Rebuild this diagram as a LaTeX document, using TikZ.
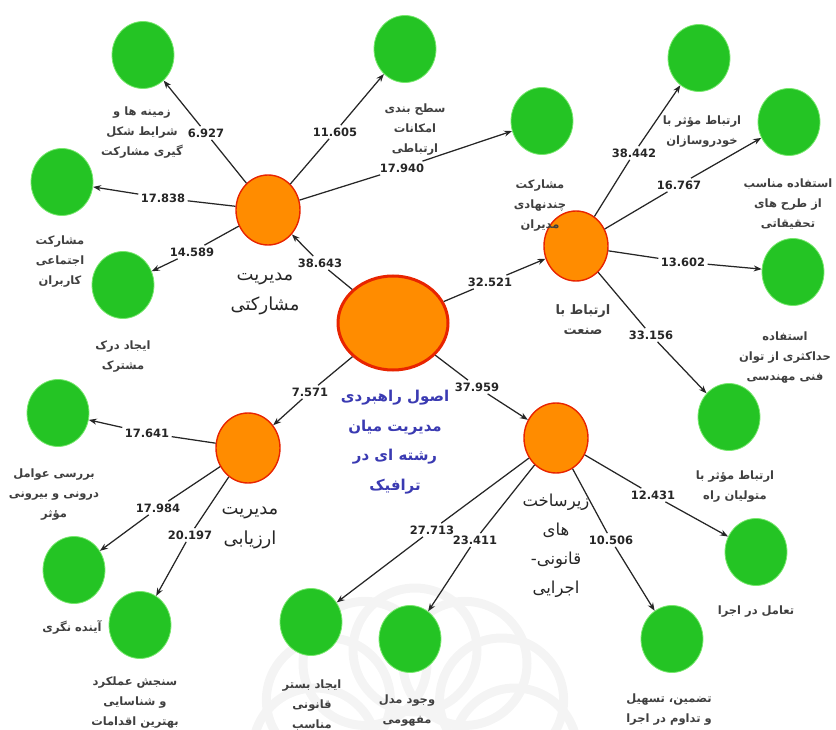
\documentclass[tikz,border=0pt]{standalone}
\usepackage{fontspec}
\setmainfont{DejaVu Sans}
\newfontfamily\fafont[Script=Arabic]{DejaVu Sans}
\TeXXeTstate=1
\usetikzlibrary{arrows.meta, shapes.geometric}
\def\fa#1{\beginR #1\endR}
\definecolor{leafgreen}{RGB}{36,196,36}
\definecolor{leafline}{RGB}{120,232,110}
\definecolor{hubfill}{RGB}{255,140,0}
\definecolor{hubline}{RGB}{232,36,0}
\definecolor{titleblue}{RGB}{58,58,178}

\begin{document}
\begin{tikzpicture}[x=1pt, y=-1pt,
  leaf/.style={ellipse, draw=leafline, line width=0.8pt, fill=leafgreen, minimum width=62pt, minimum height=67pt, inner sep=0pt},
  hub/.style={ellipse, draw=hubline, line width=1.4pt, fill=hubfill, minimum width=64pt, minimum height=70pt, inner sep=0pt},
  core/.style={ellipse, draw=hubline, line width=3pt, fill=hubfill, minimum width=110pt, minimum height=94pt},
  wt/.style={fill=white, inner sep=0.5pt, outer sep=2pt, text=black!85, font=\bfseries\fontsize{11.5}{12}\selectfont},
  tag/.style={align=center, text=black!75, font=\fafont\bfseries\fontsize{11.5}{20}\selectfont},
  bigtag/.style={align=center, text=black!85, font=\fafont\fontsize{18}{30}\selectfont},
  wire/.style={line width=1.25pt, black!85},
  link/.style={wire, -{Stealth[length=8pt, width=6pt]}},
  wmark/.style={gray!9, line width=9pt}]
\useasboundingbox (0,0) rectangle (836,730);

% faint watermark
\foreach \a in {0,30,...,330}
  \draw[wmark] (415,750) ++(\a:100) circle (62);

% main concept
\node[core] (root) at (393,323) {};
\node[tag, text=titleblue, font=\fafont\bfseries\fontsize{15}{29.6}\selectfont] (rootlbl) at (395,442)
  {\fa{اصول راهبردی}\\\fa{مدیریت میان}\\\fa{رشته ای در}\\\fa{ترافیک}};

% second level
\node[hub] (mgmt) at (268,210) {};
\node[hub] (ind) at (576,246) {};
\node[hub] (eval) at (248,448) {};
\node[hub] (infra) at (556,438) {};
\node[bigtag] (mgmtlbl) at (265,294) {\fa{مدیریت}\\\fa{مشارکتی}};
\node[tag, font=\fafont\bfseries\fontsize{13}{20}\selectfont] (indlbl) at (583,320) {\fa{ارتباط با}\\\fa{صنعت}};
\node[bigtag] (evallbl) at (250,528) {\fa{مدیریت}\\\fa{ارزیابی}};
\node[bigtag, font=\fafont\fontsize{16.5}{29}\selectfont] (infralbl) at (556,546)
  {\fa{زیرساخت}\\\fa{های}\\\fa{قانونی-}\\\fa{اجرایی}};

% indicators
\node[leaf] (g1) at (143,55) {};
\node[leaf] (g2) at (405,49) {};
\node[leaf] (g3) at (542,121) {};
\node[leaf] (g4) at (62,182) {};
\node[leaf] (g5) at (123,285) {};
\node[leaf] (g6) at (699,58) {};
\node[leaf] (g7) at (789,122) {};
\node[leaf] (g8) at (793,272) {};
\node[leaf] (g9) at (729,417) {};
\node[leaf] (g10) at (58,413) {};
\node[leaf] (g11) at (74,570) {};
\node[leaf] (g12) at (140,625) {};
\node[leaf] (g13) at (311,622) {};
\node[leaf] (g14) at (410,639) {};
\node[leaf] (g15) at (756,552) {};
\node[leaf] (g16) at (672,639) {};

\node[tag] (g1lbl) at (142,133) {\fa{زمینه ها و}\\\fa{شرایط شکل}\\\fa{گیری مشارکت}};
\node[tag] (g2lbl) at (415,130) {\fa{سطح بندی}\\\fa{امکانات}\\\fa{ارتباطی}};
\node[tag] (g3lbl) at (540,206) {\fa{مشارکت}\\\fa{چندنهادی}\\\fa{مدیران}};
\node[tag] (g4lbl) at (60,262) {\fa{مشارکت}\\\fa{اجتماعی}\\\fa{کاربران}};
\node[tag] (g5lbl) at (123,357) {\fa{ایجاد درک}\\\fa{مشترک}};
\node[tag] (g6lbl) at (702,132) {\fa{ارتباط مؤثر با}\\\fa{خودروسازان}};
\node[tag] (g7lbl) at (788,204) {\fa{استفاده مناسب}\\\fa{از طرح های}\\\fa{تحقیقاتی}};
\node[tag] (g8lbl) at (785,358) {\fa{استفاده}\\\fa{حداکثری از توان}\\\fa{فنی مهندسی}};
\node[tag] (g9lbl) at (735,487) {\fa{ارتباط مؤثر با}\\\fa{متولیان راه}};
\node[tag] (g10lbl) at (54,495) {\fa{بررسی عوامل}\\\fa{درونی و بیرونی}\\\fa{مؤثر}};
\node[tag] (g11lbl) at (72,627) {\fa{آینده نگری}};
\node[tag] (g12lbl) at (135,703) {\fa{سنجش عملکرد}\\\fa{و شناسایی}\\\fa{بهترین اقدامات}};
\node[tag] (g13lbl) at (312,705) {\fa{ایجاد بستر}\\\fa{قانونی}\\\fa{مناسب}};
\node[tag] (g14lbl) at (407,711) {\fa{وجود مدل}\\\fa{مفهومی}};
\node[tag] (g15lbl) at (756,612) {\fa{تعامل در اجرا}};
\node[tag] (g16lbl) at (669,710) {\fa{تضمین، تسهیل}\\\fa{و تداوم در اجرا}};

% path weights
\node[wt] (w1) at (206,133) {6.927};
\node[wt] (w2) at (335,132) {11.605};
\node[wt] (w3) at (402,168) {17.940};
\node[wt] (w4) at (163,198) {17.838};
\node[wt] (w5) at (192,252) {14.589};
\node[wt] (w6) at (320,263) {38.643};
\node[wt] (w7) at (490,282) {32.521};
\node[wt] (w8) at (634,153) {38.442};
\node[wt] (w9) at (679,185) {16.767};
\node[wt] (w10) at (683,262) {13.602};
\node[wt] (w11) at (651,335) {33.156};
\node[wt] (w12) at (310,392) {7.571};
\node[wt] (w13) at (477,387) {37.959};
\node[wt] (w14) at (147,433) {17.641};
\node[wt] (w15) at (158,508) {17.984};
\node[wt] (w16) at (190,535) {20.197};
\node[wt] (w17) at (432,530) {27.713};
\node[wt] (w18) at (475,540) {23.411};
\node[wt] (w19) at (653,495) {12.431};
\node[wt] (w20) at (611,540) {10.506};

% root to hubs
\draw[wire] (root) -- (w6);  \draw[link] (w6) -- (mgmt);
\draw[wire] (root) -- (w7);  \draw[link] (w7) -- (ind);
\draw[wire] (root) -- (w12); \draw[link] (w12) -- (eval);
\draw[wire] (root) -- (w13); \draw[link] (w13) -- (infra);

% hubs to indicators
\draw[wire] (mgmt) -- (w1);  \draw[link] (w1) -- (g1);
\draw[wire] (mgmt) -- (w2);  \draw[link] (w2) -- (g2);
\draw[wire] (mgmt) -- (w3);  \draw[link] (w3) -- (g3);
\draw[wire] (mgmt) -- (w4);  \draw[link] (w4) -- (g4);
\draw[wire] (mgmt) -- (w5);  \draw[link] (w5) -- (g5);
\draw[wire] (ind) -- (w8);   \draw[link] (w8) -- (g6);
\draw[wire] (ind) -- (w9);   \draw[link] (w9) -- (g7);
\draw[wire] (ind) -- (w10);  \draw[link] (w10) -- (g8);
\draw[wire] (ind) -- (w11);  \draw[link] (w11) -- (g9);
\draw[wire] (eval) -- (w14); \draw[link] (w14) -- (g10);
\draw[wire] (eval) -- (w15); \draw[link] (w15) -- (g11);
\draw[wire] (eval) -- (w16); \draw[link] (w16) -- (g12);
\draw[wire] (infra) -- (w17); \draw[link] (w17) -- (g13);
\draw[wire] (infra) -- (w18); \draw[link] (w18) -- (g14);
\draw[wire] (infra) -- (w19); \draw[link] (w19) -- (g15);
\draw[wire] (infra) -- (w20); \draw[link] (w20) -- (g16);
\end{tikzpicture}
\end{document}
